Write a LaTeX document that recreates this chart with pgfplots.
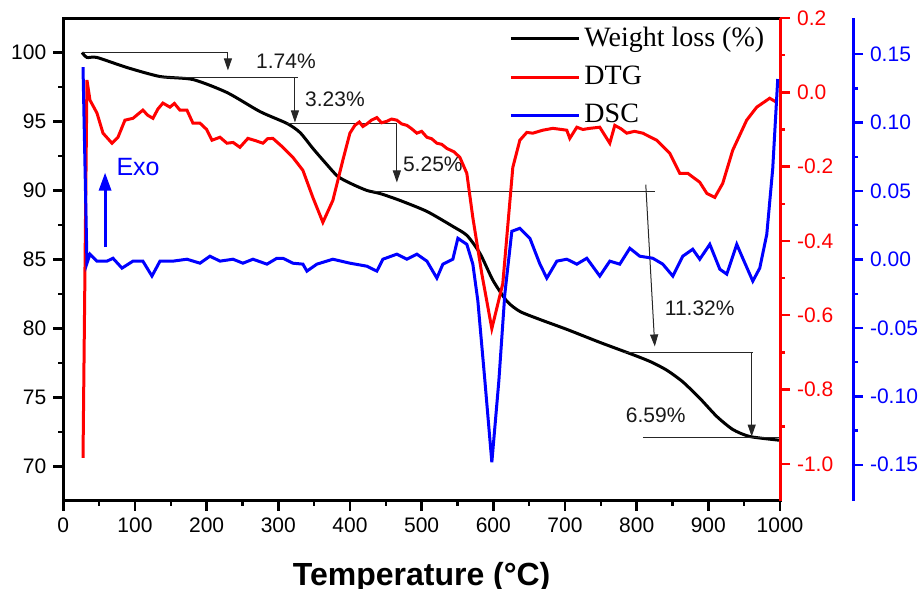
\documentclass[border=0pt]{standalone}
\usepackage{fontspec}
\setmainfont{Liberation Sans}
\newfontfamily\timesfont{Liberation Serif}
\usepackage{pgfplots}
\pgfplotsset{compat=1.18}
\usetikzlibrary{arrows.meta}

\pgfplotstableread{
T W
26.1 100.0
33.1 99.64
47.0 99.64
88.9 98.91
134.9 98.26
181.0 98.04
228.4 97.10
274.4 95.72
312.1 94.86
330.3 94.20
348.4 93.04
365.2 92.03
383.3 91.01
404.3 90.43
423.8 90.00
441.9 89.78
469.8 89.28
507.5 88.48
543.8 87.39
563.3 86.74
581.5 85.43
599.6 83.48
619.2 81.96
637.3 81.23
665.2 80.65
702.9 79.93
748.9 78.99
795.0 78.10
820.0 77.58
842.0 76.98
864.0 76.15
888.0 74.95
911.9 73.62
934.2 72.68
958.0 72.17
1000 71.90
}\weighttab

\pgfplotstableread{
T D
27.5 -0.984
33 0.033
37.2 -0.021
47 -0.056
55.4 -0.110
67.9 -0.137
76.3 -0.121
86 -0.075
97.2 -0.070
111 -0.048
118 -0.062
125.1 -0.070
132 -0.045
139 -0.029
148.8 -0.040
155 -0.030
162.7 -0.048
172.5 -0.048
180.9 -0.083
190.7 -0.083
200 -0.100
207.4 -0.129
218.6 -0.121
228.3 -0.137
237 -0.135
246.4 -0.148
257.6 -0.124
268 -0.130
278.5 -0.137
285 -0.125
292.4 -0.124
306.4 -0.148
320.3 -0.175
334.3 -0.210
348.2 -0.283
362.2 -0.350
376.1 -0.291
390 -0.183
399.9 -0.110
406.8 -0.089
413 -0.080
418 -0.092
423.6 -0.085
430 -0.075
437.5 -0.068
444 -0.082
451.5 -0.078
458 -0.072
465.4 -0.075
472 -0.085
479.4 -0.089
486 -0.098
493.3 -0.110
500 -0.105
507.3 -0.121
514 -0.125
521.2 -0.137
528 -0.140
535.1 -0.151
545 -0.160
553.3 -0.175
563 -0.218
571.4 -0.337
583.9 -0.488
597.9 -0.636
613.2 -0.515
627.2 -0.202
637 -0.129
646.7 -0.108
655.1 -0.110
669 -0.102
683 -0.097
695 -0.100
702.5 -0.102
706.7 -0.124
716.5 -0.094
725 -0.100
734.6 -0.097
748.5 -0.094
762.5 -0.137
769.5 -0.089
778 -0.098
786.2 -0.110
797 -0.105
808.5 -0.110
828 -0.129
846.2 -0.164
860.2 -0.218
871.3 -0.218
888 -0.242
897.9 -0.272
909 -0.283
920.1 -0.245
934 -0.156
953.5 -0.075
967.5 -0.040
985.6 -0.016
995.4 -0.027
}\dtgtab

\pgfplotstableread{
T S
27.5 0.1406
33 -0.0027
37.2 0.0039
47 -0.0012
61 -0.0012
69.3 0.0009
81.9 -0.0063
97.2 -0.0012
111 -0.0012
123.7 -0.0121
134.9 -0.0012
153 -0.0012
172.5 0.0002
190.7 -0.0027
204.6 0.0024
218.6 -0.0012
236.7 0.0002
250.6 -0.0027
264.6 0.0002
284.1 -0.0034
298 0.0009
306.4 0.0009
320.3 -0.0027
334.3 -0.0034
339.9 -0.0085
353.8 -0.0034
376.1 0.0002
399.9 -0.0027
423.6 -0.0049
437.5 -0.0085
445.9 0.0002
465.4 0.0039
479.4 0.0002
493.3 0.0039
507.3 -0.0012
521.2 -0.0136
529.6 -0.0034
543.5 0.0002
550.5 0.0155
563 0.0111
571.4 -0.0034
578.4 -0.0303
588.2 -0.0886
597.9 -0.1482
607.7 -0.0886
616 -0.0253
625.8 0.0206
637 0.0228
651 0.0155
665 -0.0034
674.6 -0.0136
688.6 -0.0012
702.5 0.0002
716.5 -0.0034
730.4 0.0009
748.5 -0.0121
762.5 -0.0012
776.4 -0.0034
790.4 0.0082
804.3 0.0024
822.5 0.0009
836.4 -0.0034
850.4 -0.0121
864.3 0.0024
878.2 0.0075
888 0.0002
902 0.0111
916 -0.0071
925.7 -0.0107
939.6 0.0111
948 0.0009
962 -0.0158
971.7 -0.0063
981.5 0.0184
989.8 0.0664
996.8 0.1319
}\dsctab

\pgfplotsset{
  /pgf/number format/assume math mode=true,
  /pgf/number format/1000 sep={},
  tick label style={font=\fontsize{10.5}{12}\selectfont},
  major tick length=5pt,
  minor tick length=2.5pt,
  tick align=outside,
}

\begin{document}
\begin{tikzpicture}
\begin{axis}[
  at={(31.65pt,44pt)}, anchor=south west,
  scale only axis, width=358.35pt, height=241.5pt,
  xmin=0, xmax=1000, ymin=67.5, ymax=102.5,
  xtick={0,100,...,1000}, minor x tick num=1,
  ytick={70,75,80,85,90,95,100}, minor y tick num=1,
  xtick pos=bottom, ytick pos=left,
  axis line style={line width=1.5pt},
  every tick/.style={black, line width=1.2pt},
  xlabel={\bfseries Temperature (°C)},
  xlabel style={font=\fontsize{16}{18}\selectfont, at={(axis description cs:0.5,-0.174)}, anchor=base},
  legend style={at={(0.622,0.99)}, anchor=north west, draw=none, fill=none, inner sep=0pt,
    row sep=4.3pt, font=\timesfont\fontsize{14}{16}\selectfont},
  legend cell align=left,
  legend image code/.code={\draw[#1, line width=1.5pt] (0pt,0pt) -- (34pt,0pt);},
]
\addplot[black, line width=1.5pt, smooth, tension=0.4] table[x=T,y=W] {\weighttab};
\addlegendentry{Weight loss (\%)}
\addlegendimage{red}
\addlegendentry{DTG}
\addlegendimage{blue}
\addlegendentry{DSC}

\tikzset{annot/.style={black!85, line width=0.5pt}, arr/.style={-{Triangle[length=6pt,width=4pt]}},
  lab/.style={black!90, font=\fontsize{10.5}{12}\selectfont, inner sep=0pt}}
\draw[annot] (axis cs:27.5,100) -- (axis cs:229.7,100);
\draw[annot,arr] (axis cs:229.7,100) -- (axis cs:229.7,98.70);
\node[lab] at (axis cs:310.6,99.35) {1.74\%};
\draw[annot] (axis cs:135,98.19) -- (axis cs:327.3,98.19);
\draw[annot,arr] (axis cs:323.2,98.19) -- (axis cs:323.2,94.93);
\node[lab] at (axis cs:379,96.6) {3.23\%};
\draw[annot] (axis cs:312,94.86) -- (axis cs:465.4,94.86);
\draw[annot,arr] (axis cs:465.4,94.86) -- (axis cs:465.4,90.58);
\node[lab] at (axis cs:515.6,91.88) {5.25\%};
\draw[annot] (axis cs:432,89.93) -- (axis cs:825.3,89.93);
\draw[annot,arr] (axis cs:812.7,90.43) -- (axis cs:825.3,78.70);
\node[lab] at (axis cs:888,81.5) {11.32\%};
\draw[annot] (axis cs:780.6,78.26) -- (axis cs:961.9,78.26);
\draw[annot,arr] (axis cs:960.5,78.26) -- (axis cs:960.5,72.17);
\draw[annot] (axis cs:808.5,72.10) -- (axis cs:999.6,72.10);
\node[lab] at (axis cs:826.6,73.7) {6.59\%};

\node[blue, font=\fontsize{12.5}{14}\selectfont, inner sep=0pt] at (axis cs:104.3,91.67) {Exo};
\draw[blue, line width=1.5pt, -{Triangle[length=9pt,width=6pt]}] (axis cs:58.3,85.9) -- (axis cs:58.3,91.3);
\end{axis}

\begin{axis}[
  at={(31.65pt,44pt)}, anchor=south west,
  scale only axis, width=358.35pt, height=241.5pt,
  xmin=0, xmax=1000, ymin=-1.1, ymax=0.2,
  axis y line*=right, axis x line=none,
  y axis line style={red, line width=1.5pt},
  ytick={-1,-0.8,-0.6,-0.4,-0.2,0,0.2}, minor y tick num=1,
  every tick/.style={red, line width=1.2pt},
  yticklabel style={red, /pgf/number format/.cd, fixed, fixed zerofill, precision=1},
]
\addplot[red, line width=1.5pt] table[x=T,y=D] {\dtgtab};
\end{axis}

\begin{axis}[
  at={(31.65pt,44pt)}, anchor=south west,
  scale only axis, width=394.85pt, height=241.5pt,
  xmin=0, xmax=1101.8, ymin=-0.1765, ymax=0.1765,
  axis y line*=right, axis x line=none,
  y axis line style={blue, line width=1.5pt},
  ytick={-0.15,-0.1,-0.05,0,0.05,0.1,0.15}, minor y tick num=1,
  every tick/.style={blue, line width=1.2pt},
  yticklabel style={blue, /pgf/number format/.cd, fixed, fixed zerofill, precision=2},
]
\addplot[blue, line width=1.5pt] table[x=T,y=S] {\dsctab};
\end{axis}
\pgfresetboundingbox
\path[use as bounding box] (0,0) rectangle (460.5pt,294.5pt);
\end{tikzpicture}
\end{document}
